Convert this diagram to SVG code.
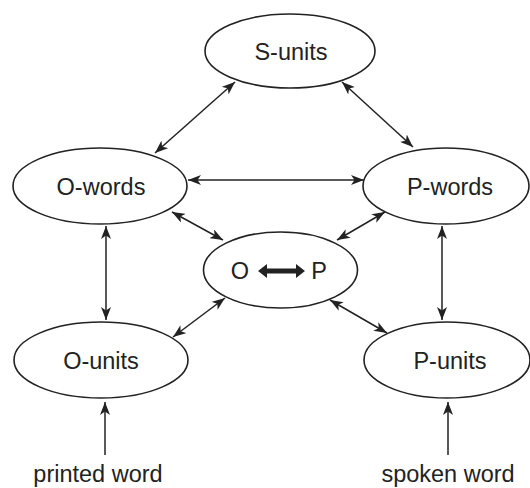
<svg xmlns="http://www.w3.org/2000/svg" width="530" height="488" viewBox="0 0 530 488">
<style>
.node ellipse{fill:#fff;stroke:#222;stroke-width:1.6}
text{font-family:"Liberation Sans",Arial,sans-serif;font-size:23.5px;fill:#222;text-anchor:middle}
.conn line{stroke:#222;stroke-width:1.5;fill:none}
.dbl{marker-start:url(#ah);marker-end:url(#ah)}
.one{marker-end:url(#ah)}
</style>
<defs>
<marker id="ah" markerUnits="userSpaceOnUse" viewBox="0 0 13 10" refX="13" refY="5" markerWidth="13" markerHeight="10" orient="auto-start-reverse">
<path d="M0,0 L13,5 L0,10 L3.5,5 z" fill="#222"/>
</marker>
</defs>
<rect width="530" height="488" fill="#fff"/>
<g id="s-units" class="node"><ellipse cx="290" cy="51" rx="85" ry="37"/><text x="291" y="59.5">S-units</text></g>
<g id="o-words" class="node"><ellipse cx="100" cy="186" rx="87" ry="38"/><text x="101" y="194.5">O-words</text></g>
<g id="p-words" class="node"><ellipse cx="446" cy="186" rx="83" ry="38"/><text x="450" y="194.5">P-words</text></g>
<g id="o-p" class="node"><ellipse cx="280.5" cy="270" rx="77" ry="38"/><text x="240" y="278.5">O</text><text x="319" y="278.5">P</text>
<path d="M258,271 L267,264 L267,268.5 L296,268.5 L296,264 L305,271 L296,278 L296,273.5 L267,273.5 L267,278 z" fill="#222"/></g>
<g id="o-units" class="node"><ellipse cx="101" cy="360" rx="87" ry="38"/><text x="101" y="368.5">O-units</text></g>
<g id="p-units" class="node"><ellipse cx="447" cy="360" rx="83" ry="38"/><text x="450" y="368.5">P-units</text></g>
<g id="printed-word"><text x="98" y="482">printed word</text></g>
<g id="spoken-word"><text x="448" y="482">spoken word</text></g>
<g id="connectors" class="conn">
<line class="dbl" x1="235" y1="82" x2="155" y2="153"/>
<line class="dbl" x1="342" y1="82" x2="413" y2="147"/>
<line class="dbl" x1="188" y1="180" x2="364" y2="180"/>
<line class="dbl" x1="172" y1="212" x2="223" y2="240"/>
<line class="dbl" x1="385" y1="212" x2="337" y2="240"/>
<line class="dbl" x1="106" y1="226" x2="106" y2="320"/>
<line class="dbl" x1="442" y1="226" x2="442" y2="320"/>
<line class="dbl" x1="225" y1="298" x2="173" y2="337"/>
<line class="dbl" x1="330" y1="300" x2="387" y2="333"/>
<line class="one" x1="105" y1="455" x2="105" y2="402"/>
<line class="one" x1="448" y1="455" x2="448" y2="402"/>
</g>
</svg>
